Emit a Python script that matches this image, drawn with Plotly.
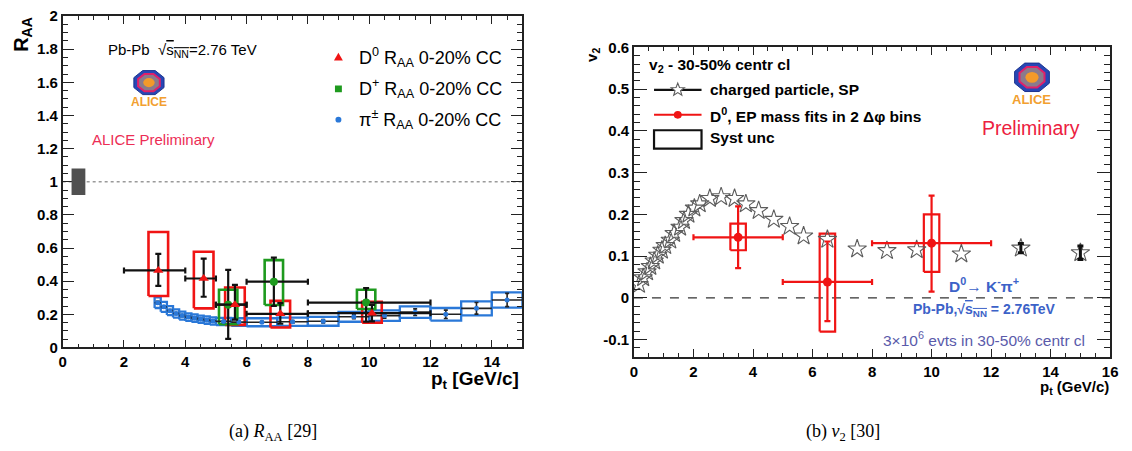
import math
import plotly.graph_objects as go

W, H = 1132, 451

# ---------------- R_AA panel (left) ----------------
# D0 R_AA, 0-20% central
d0_pt = [3.12, 4.6, 5.62, 7.1, 10.09]
d0_raa = [0.465, 0.416, 0.258, 0.203, 0.207]
d0_bin_lo = [2, 4, 5, 6, 8]
d0_bin_hi = [4, 5, 6, 8, 12]
d0_stat_up = [0.10, 0.12, 0.12, 0.065, 0.05]
d0_stat_dn = [0.093, 0.11, 0.09, 0.06, 0.05]
d0_sys_lo = [0.31, 0.236, 0.136, 0.12, 0.149]
d0_sys_hi = [0.697, 0.577, 0.362, 0.281, 0.275]

# D+ R_AA, 0-20% central
dp_pt = [5.4, 6.89, 9.9]
dp_raa = [0.258, 0.397, 0.271]
dp_bin_lo = [5, 6, 8]
dp_bin_hi = [6, 8, 12]
dp_stat_up = [0.21, 0.145, 0.087]
dp_stat_dn = [0.206, 0.147, 0.116]
dp_sys_lo = [0.14, 0.256, 0.232]
dp_sys_hi = [0.348, 0.527, 0.348]

# charged pion R_AA, 0-20% central
pi_bin_lo = [3.0, 3.2, 3.4, 3.6, 3.8, 4.0, 4.2, 4.4, 4.6, 4.8, 5.0, 5.5, 6, 7, 8, 9, 10, 11, 12, 13, 14]
pi_bin_hi = [3.2, 3.4, 3.6, 3.8, 4.0, 4.2, 4.4, 4.6, 4.8, 5.0, 5.5, 6, 7, 8, 9, 10, 11, 12, 13, 14, 15]
pi_raa = [0.27, 0.245, 0.222, 0.205, 0.192, 0.183, 0.177, 0.17, 0.165, 0.16, 0.157, 0.153,
          0.152, 0.155, 0.158, 0.185, 0.192, 0.213, 0.2, 0.236, 0.286]
pi_stat = [0.008, 0.007, 0.007, 0.006, 0.006, 0.006, 0.006, 0.006, 0.006, 0.006, 0.006, 0.006,
           0.006, 0.008, 0.01, 0.012, 0.015, 0.02, 0.025, 0.035, 0.04]
pi_sys = [0.032, 0.03, 0.027, 0.025, 0.024, 0.023, 0.022, 0.022, 0.022, 0.022, 0.022, 0.023,
          0.024, 0.025, 0.027, 0.03, 0.032, 0.035, 0.038, 0.042, 0.046]

# global normalisation uncertainty drawn at R_AA = 1
norm_value = 1.0
norm_unc = 0.08

raa_yticks = [0, 0.2, 0.4, 0.6, 0.8, 1, 1.2, 1.4, 1.6, 1.8, 2]
raa_ytext = ["0", "0.2", "0.4", "0.6", "0.8", "1", "1.2", "1.4", "1.6", "1.8", "2"]
raa_xticks = [0, 2, 4, 6, 8, 10, 12, 14]

# ---------------- v2 panel (right) ----------------
# charged-particle v2{SP}, 30-50%
ch_pt = [0.17, 0.31, 0.44, 0.55, 0.68, 0.80, 0.94, 1.05, 1.22, 1.35, 1.55, 1.68, 1.83, 2.03,
         2.21, 2.55, 2.93, 3.38, 3.76, 4.19, 4.70, 5.23, 5.70, 6.5, 7.5, 8.5, 9.5, 11, 13, 15]
ch_v2 = [0.032, 0.048, 0.062, 0.075, 0.088, 0.102, 0.114, 0.125, 0.138, 0.154, 0.169, 0.185,
         0.2, 0.215, 0.225, 0.238, 0.242, 0.238, 0.225, 0.209, 0.188, 0.171, 0.148, 0.14,
         0.117, 0.113, 0.115, 0.105, 0.119, 0.108]
ch_err = [0] * 28 + [0.011, 0.016]

# D0 v2, event-plane mass fits
v2_pt = [3.5, 6.5, 10.0]
v2_val = [0.145, 0.038, 0.131]
v2_bin_lo = [2, 5, 8]
v2_bin_hi = [5, 8, 12]
v2_stat_up = [0.074, 0.097, 0.114]
v2_stat_dn = [0.074, 0.094, 0.116]
v2_sys_lo = [0.114, -0.081, 0.062]
v2_sys_hi = [0.178, 0.154, 0.2]

v2_yticks = [-0.1, 0, 0.1, 0.2, 0.3, 0.4, 0.5, 0.6]
v2_ytext = ["-0.1", "0", "0.1", "0.2", "0.3", "0.4", "0.5", "0.6"]
v2_xticks = [0, 2, 4, 6, 8, 10, 12, 14, 16]

# ---------------- styling ----------------
RED = "#f01414"
GREEN = "#1e9a1e"
BLUE = "#2a78d8"
STAR = "#5c5c5c"
SANS = "Liberation Sans, Arial, sans-serif"
SERIF = "Liberation Serif, Times New Roman, serif"


def fx(px):
    return px / W


def fy(py):
    return 1 - py / H


def boxes(xc, lo, hi, hw):
    xs, ys = [], []
    for x, a, b in zip(xc, lo, hi):
        xs += [x - hw, x + hw, x + hw, x - hw, x - hw, None]
        ys += [a, a, b, b, a, None]
    return xs, ys


def boxes_bins(blo, bhi, yc, half):
    xs, ys = [], []
    for a, b, y, h in zip(blo, bhi, yc, half):
        xs += [a, b, b, a, a, None]
        ys += [y - h, y - h, y + h, y + h, y - h, None]
    return xs, ys


fig = go.Figure()

# ---- left panel ----
px_, py_ = boxes_bins(pi_bin_lo, pi_bin_hi, pi_raa, pi_sys)
fig.add_trace(go.Scatter(x=px_, y=py_, mode="lines", line=dict(color=BLUE, width=2.3),
                         hoverinfo="skip", showlegend=False, xaxis="x", yaxis="y"))
bx, by = boxes(d0_pt, d0_sys_lo, d0_sys_hi, 0.32)
fig.add_trace(go.Scatter(x=bx, y=by, mode="lines", line=dict(color=RED, width=2.6),
                         hoverinfo="skip", showlegend=False, xaxis="x", yaxis="y"))
bx, by = boxes(dp_pt, dp_sys_lo, dp_sys_hi, 0.3)
fig.add_trace(go.Scatter(x=bx, y=by, mode="lines", line=dict(color=GREEN, width=2.6),
                         hoverinfo="skip", showlegend=False, xaxis="x", yaxis="y"))

pi_pt = [(a + b) / 2 for a, b in zip(pi_bin_lo, pi_bin_hi)]
pi_hw = [(b - a) / 2 for a, b in zip(pi_bin_lo, pi_bin_hi)]
fig.add_trace(go.Scatter(
    x=pi_pt, y=pi_raa, mode="markers", xaxis="x", yaxis="y", showlegend=False,
    marker=dict(symbol="circle", size=5, color=BLUE),
    error_x=dict(type="data", array=pi_hw, color="#222", thickness=1.6, width=0),
    error_y=dict(type="data", array=pi_stat, color="#222", thickness=1.6, width=2)))

fig.add_trace(go.Scatter(
    x=dp_pt, y=dp_raa, mode="markers", xaxis="x", yaxis="y", showlegend=False,
    marker=dict(symbol="circle", size=8, color=GREEN),
    error_x=dict(type="data", symmetric=False,
                 array=[b - x for b, x in zip(dp_bin_hi, dp_pt)],
                 arrayminus=[x - a for a, x in zip(dp_bin_lo, dp_pt)],
                 color="#111", thickness=2.2, width=3),
    error_y=dict(type="data", symmetric=False, array=dp_stat_up, arrayminus=dp_stat_dn,
                 color="#111", thickness=2.2, width=3)))

fig.add_trace(go.Scatter(
    x=d0_pt, y=d0_raa, mode="markers", xaxis="x", yaxis="y", showlegend=False,
    marker=dict(symbol="triangle-up", size=9, color=RED),
    error_x=dict(type="data", symmetric=False,
                 array=[b - x for b, x in zip(d0_bin_hi, d0_pt)],
                 arrayminus=[x - a for a, x in zip(d0_bin_lo, d0_pt)],
                 color="#111", thickness=2.2, width=3),
    error_y=dict(type="data", symmetric=False, array=d0_stat_up, arrayminus=d0_stat_dn,
                 color="#111", thickness=2.2, width=3)))

# ---- right panel ----
bx, by = boxes(v2_pt, v2_sys_lo, v2_sys_hi, 0.26)
fig.add_trace(go.Scatter(x=bx, y=by, mode="lines", line=dict(color=RED, width=2.2),
                         hoverinfo="skip", showlegend=False, xaxis="x2", yaxis="y2"))
fig.add_trace(go.Scatter(
    x=ch_pt, y=ch_v2, mode="markers", xaxis="x2", yaxis="y2", showlegend=False,
    marker=dict(symbol="star-open", size=14, color=STAR, line=dict(width=1.1))))
# statistical errors exist only for the highest-pt charged-particle points
err_idx = [i for i, e in enumerate(ch_err) if e > 0]
fig.add_trace(go.Scatter(
    x=[ch_pt[i] for i in err_idx], y=[ch_v2[i] for i in err_idx], mode="markers",
    xaxis="x2", yaxis="y2", showlegend=False, marker=dict(size=1, color="rgba(0,0,0,0)"),
    error_y=dict(type="data", array=[ch_err[i] for i in err_idx], color="#111",
                 thickness=3, width=3)))
fig.add_trace(go.Scatter(
    x=v2_pt, y=v2_val, mode="markers", xaxis="x2", yaxis="y2", showlegend=False,
    marker=dict(symbol="circle", size=9, color=RED),
    error_x=dict(type="data", symmetric=False,
                 array=[b - x for b, x in zip(v2_bin_hi, v2_pt)],
                 arrayminus=[x - a for a, x in zip(v2_bin_lo, v2_pt)],
                 color=RED, thickness=2.2, width=3),
    error_y=dict(type="data", symmetric=False, array=v2_stat_up, arrayminus=v2_stat_dn,
                 color=RED, thickness=2.2, width=3)))

shapes = []
# reference lines
shapes.append(dict(type="line", xref="x domain", yref="y", x0=0, x1=1, y0=norm_value, y1=norm_value,
                   line=dict(color="#9a9a9a", width=1.5, dash="dot"), layer="below"))
shapes.append(dict(type="line", xref="x2 domain", yref="y2", x0=0, x1=1, y0=0, y1=0,
                   line=dict(color="#333", width=1.2, dash="dash"), layer="below"))
# normalisation uncertainty box
shapes.append(dict(type="rect", xref="x", yref="y", x0=0.29, x1=0.74,
                   y0=norm_value - norm_unc, y1=norm_value + norm_unc,
                   fillcolor="#505050", line=dict(width=0)))


def octagon(cx, cy, rx, ry):
    pts = []
    for k in range(8):
        a = math.radians(22.5 + 45 * k)
        pts.append((fx(cx + rx * math.cos(a)), fy(cy + ry * math.sin(a))))
    return "M" + "L".join(f"{x:.5f},{y:.5f}" for x, y in pts) + "Z"


def logo(cx, cy, rx, ry):
    shapes.append(dict(type="path", xref="paper", yref="paper", path=octagon(cx, cy, rx, ry),
                       fillcolor="#2747b5", line=dict(color="#1b338f", width=1)))
    shapes.append(dict(type="path", xref="paper", yref="paper",
                       path=octagon(cx, cy, rx * 0.72, ry * 0.72),
                       fillcolor="#8a7a8c", line=dict(color="#e0206a", width=2)))
    shapes.append(dict(type="circle", xref="paper", yref="paper",
                       x0=fx(cx - rx * 0.35), x1=fx(cx + rx * 0.35),
                       y0=fy(cy + ry * 0.35), y1=fy(cy - ry * 0.35),
                       fillcolor="#f39a2a", line=dict(width=0)))


logo(146.5, 76.5, 16.5, 13.5)
logo(1039, 71, 19, 16)


# legend keys, left panel
def tri(cx, cy, s):
    return (f"M{fx(cx - s):.5f},{fy(cy + s * 0.8):.5f}L{fx(cx + s):.5f},{fy(cy + s * 0.8):.5f}"
            f"L{fx(cx):.5f},{fy(cy - s):.5f}Z")


shapes.append(dict(type="path", xref="paper", yref="paper", path=tri(338, 50, 4.5),
                   fillcolor=RED, line=dict(width=0)))
shapes.append(dict(type="rect", xref="paper", yref="paper", x0=fx(334.5), x1=fx(341.5),
                   y0=fy(86.5), y1=fy(79.5), fillcolor=GREEN, line=dict(width=0)))
shapes.append(dict(type="circle", xref="paper", yref="paper", x0=fx(335), x1=fx(341),
                   y0=fy(118), y1=fy(112), fillcolor=BLUE, line=dict(width=0)))

# legend keys, right panel
shapes.append(dict(type="line", xref="paper", yref="paper", x0=fx(657), x1=fx(705),
                   y0=fy(84), y1=fy(84), line=dict(color="#111", width=2.2)))
shapes.append(dict(type="line", xref="paper", yref="paper", x0=fx(657), x1=fx(705),
                   y0=fy(110), y1=fy(110), line=dict(color=RED, width=2)))
shapes.append(dict(type="circle", xref="paper", yref="paper", x0=fx(677), x1=fx(685),
                   y0=fy(114), y1=fy(106), fillcolor=RED, line=dict(width=0)))
shapes.append(dict(type="rect", xref="paper", yref="paper", x0=fx(657), x1=fx(705),
                   y0=fy(145), y1=fy(126), line=dict(color="#111", width=2.2)))


def star(cx, cy, r):
    pts = []
    for k in range(10):
        rr = r if k % 2 == 0 else r * 0.42
        a = math.radians(-90 + 36 * k)
        pts.append((fx(cx + rr * math.cos(a)), fy(cy + rr * math.sin(a))))
    return "M" + "L".join(f"{x:.5f},{y:.5f}" for x, y in pts) + "Z"


shapes.append(dict(type="path", xref="paper", yref="paper", path=star(681, 84, 7),
                   fillcolor="white", line=dict(color=STAR, width=1.1)))

annotations = []


def text(px, py, s, size, color="black", bold=False, xanchor="center", angle=0, family=SANS):
    annotations.append(dict(x=fx(px), y=fy(py), xref="paper", yref="paper", text=s,
                            showarrow=False, xanchor=xanchor, yanchor="middle", textangle=angle,
                            borderpad=0,
                            font=dict(family=family, size=size, color=color,
                                      weight="bold" if bold else "normal")))


# left panel texts
text(18, 26, "R<sub>AA</sub>", 20, bold=True, angle=-90)
text(476, 386, "p<sub>t</sub> [GeV/c]", 19, bold=True)
text(104, 43, "Pb-Pb  √<span style=\"text-decoration:overline\">s<sub>NN</sub></span>=2.76 TeV",
     15, xanchor="left")
text(146.5, 96.5, "ALICE", 12, color="#f2a030", bold=True)
text(88, 136, "ALICE Preliminary", 15, color="#ec2d55", xanchor="left")
text(358, 50, "D<sup>0</sup> R<sub>AA</sub> 0-20% CC", 18, xanchor="left")
text(358, 83, "D<sup>+</sup> R<sub>AA</sub> 0-20% CC", 18, xanchor="left")
text(358, 115, "π<sup>±</sup> R<sub>AA</sub> 0-20% CC", 18, xanchor="left")

# right panel texts
text(594, 48, "v<sub>2</sub>", 15, bold=True, angle=-90)
text(1082, 393, "p<sub>t</sub> (GeV/c)", 15, bold=True)
text(651, 59, "v<sub>2</sub> - 30-50% centr cl", 15.5, bold=True, xanchor="left")
text(713, 84, "charged particle, SP", 15.5, bold=True, xanchor="left")
text(713, 110, "D<sup>0</sup>, EP mass fits in 2 Δφ bins", 15.5, bold=True, xanchor="left")
text(713, 134, "Syst unc", 15.5, bold=True, xanchor="left")
text(1039, 94, "ALICE", 13, color="#f2a030", bold=True)
text(1038, 124, "Preliminary", 19.5, color="#ec2040")
text(991, 287, "D<sup>0</sup>→ K<sup>-</sup>π<sup>+</sup>", 15.5, color="#3c62c8", bold=True)
text(991, 313, "Pb-Pb,√<span style=\"text-decoration:overline\">s<sub>NN</sub></span> = 2.76TeV",
     14, color="#3c62c8", bold=True)
text(991, 343, "3×10<sup>6</sup> evts in 30-50% centr cl", 15.5, color="#5a5aaa")

# captions
text(272, 440, "(a) <i>R</i><sub>AA</sub> [29]", 18, family=SERIF)
text(848, 440, "(b) <i>v</i><sub>2</sub> [30]", 18, family=SERIF)

axis_common = dict(showline=True, linecolor="#222", linewidth=1.5, mirror="ticks",
                   ticks="inside", tickcolor="#222", tickwidth=1.3, showgrid=False,
                   zeroline=False, tickfont=dict(family=SANS, size=15, color="black", weight="bold"))

fig.update_layout(
    width=W, height=H, margin=dict(l=0, r=0, t=0, b=0),
    paper_bgcolor="white", plot_bgcolor="white", showlegend=False,
    xaxis=dict(domain=[fx(59.3), fx(524)], range=[0, 15], anchor="y",
               tickvals=raa_xticks, ticklen=8,
               minor=dict(ticks="inside", dtick=0.5, ticklen=4, tickcolor="#222"),
               **axis_common),
    yaxis=dict(domain=[fy(351.7), fy(7.3)], range=[0, 2], anchor="x",
               tickvals=raa_yticks, ticktext=raa_ytext, ticklen=12,
               minor=dict(ticks="inside", dtick=0.05, ticklen=6, tickcolor="#222"),
               **axis_common),
    xaxis2=dict(domain=[fx(636.7), fx(1118)], range=[0, 16], anchor="y2",
                tickvals=v2_xticks, ticklen=8,
                minor=dict(ticks="inside", dtick=0.5, ticklen=4, tickcolor="#222"),
                **axis_common),
    yaxis2=dict(domain=[fy(361.7), fy(40)], range=[-0.142, 0.6], anchor="x2",
                tickvals=v2_yticks, ticktext=v2_ytext, ticklen=13,
                minor=dict(ticks="inside", dtick=0.02, ticklen=6, tickcolor="#222"),
                **axis_common),
    shapes=shapes, annotations=annotations,
)

fig.write_html("out.html")
